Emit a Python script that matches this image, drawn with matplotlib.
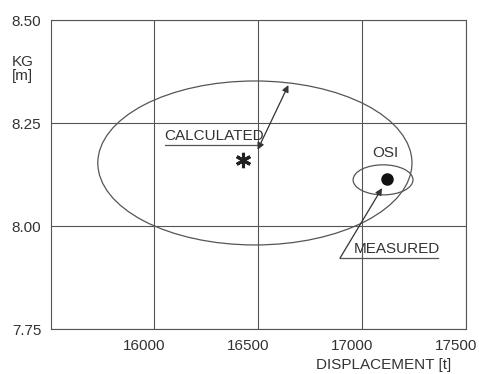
import matplotlib.pyplot as plt
import matplotlib.transforms as mtransforms
from matplotlib.patches import Ellipse

plt.rcParams['font.family'] = ['Liberation Sans', 'DejaVu Sans']

# big "calculated" ellipse and small "OSI" ellipse: centre x, centre y, width, height
calc_ellipse = [16485, 8.153, 1510, 0.398]
osi_ellipse = [17101, 8.112, 288, 0.073]

# points
calc_point = [16428, 8.160]   # asterisk
meas_point = [17118, 8.115]   # filled dot

xticks = [16000, 16500, 17000, 17500]
yticks = [7.75, 8.00, 8.25, 8.50]
ytick_labels = ['7.75', '8.00', '8.25', '8.50']

line_col = '#555555'
text_col = '#333333'

fig = plt.figure(figsize=(4.79, 3.74), dpi=100)
ax = fig.add_axes([0.1065, 0.1203, 0.8665, 0.8262])
ax.set_xlim(15505, 17500)
ax.set_ylim(7.75, 8.50)

ax.set_xticks(xticks)
ax.set_yticks(yticks)
ax.set_yticklabels(ytick_labels)
ax.tick_params(length=0, labelsize=11, labelcolor=text_col, pad=7)
ax.grid(True, color=line_col, linewidth=0.8)
for s in ax.spines.values():
    s.set_color(line_col)
    s.set_linewidth(0.8)

# tick labels in the original sit a bit left of their grid lines
shift = mtransforms.ScaledTranslation(-10 / 100, 0, fig.dpi_scale_trans)
for lab in ax.get_xticklabels():
    lab.set_transform(lab.get_transform() + shift)

ax.add_patch(Ellipse((calc_ellipse[0], calc_ellipse[1]), calc_ellipse[2], calc_ellipse[3],
                     fill=False, edgecolor=line_col, linewidth=0.9, zorder=3))
ax.add_patch(Ellipse((osi_ellipse[0], osi_ellipse[1]), osi_ellipse[2], osi_ellipse[3],
                     fill=False, edgecolor=line_col, linewidth=0.9, zorder=3))

ax.plot(calc_point[0], calc_point[1], marker=(6, 2, 0), markersize=11,
        markeredgewidth=2.2, color='#222222', zorder=4)
ax.plot(meas_point[0], meas_point[1], 'o', markersize=8, color='#111111', zorder=4)

# CALCULATED label with underline and double arrow
ax.text(16048, 8.218, 'CALCULATED', fontsize=11, color=text_col, va='center', ha='left')
ax.plot([16053, 16514], [8.197, 8.197], color=line_col, linewidth=0.9)
ax.annotate('', xy=(16646, 8.342), xytext=(16498, 8.185),
            arrowprops=dict(arrowstyle='<|-|>', color='#333333', lw=0.9,
                            mutation_scale=10, shrinkA=0, shrinkB=0))

# MEASURED label with underline and arrow
ax.text(16958, 7.943, 'MEASURED', fontsize=11, color=text_col, va='center', ha='left')
ax.plot([16894, 17365], [7.922, 7.922], color=line_col, linewidth=0.9)
ax.annotate('', xy=(17096, 8.092), xytext=(16894, 7.922),
            arrowprops=dict(arrowstyle='-|>', color='#333333', lw=0.9,
                            mutation_scale=10, shrinkA=0, shrinkB=0))

ax.text(17111, 8.177, 'OSI', fontsize=11, color=text_col, va='center', ha='center')

fig.text(12 / 479, 1 - 69 / 374, 'KG\n[m]', fontsize=11, color=text_col,
         ha='left', va='center', linespacing=0.95)
fig.text(384 / 479, 1 - 365 / 374, 'DISPLACEMENT [t]', fontsize=11, color=text_col,
         ha='center', va='center')

fig.savefig('out.png', dpi=100)
